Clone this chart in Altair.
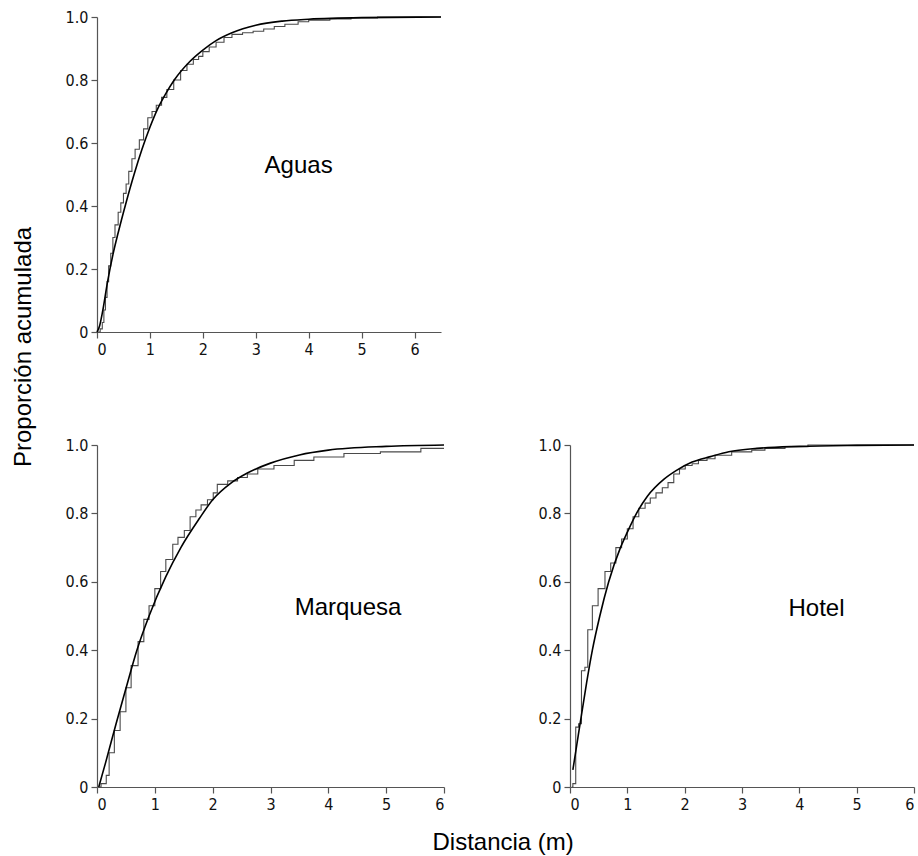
import altair as alt
import pandas as pd

# ---- Aguas -------------------------------------------------------------
AGUAS_FIT_X = [0.0, 0.05, 0.10, 0.20, 0.30, 0.40, 0.54, 0.70, 0.85, 1.00, 1.15,
               1.30, 1.46, 1.75, 2.00, 2.25, 2.55, 3.00, 3.50, 4.00, 5.00, 6.50]
AGUAS_FIT_Y = [0.0, 0.02, 0.06, 0.16, 0.245, 0.315, 0.405, 0.50, 0.58, 0.65, 0.71,
               0.757, 0.80, 0.858, 0.895, 0.925, 0.95, 0.974, 0.987, 0.993, 0.998, 1.0]
AGUAS_EMP_X = [0.00, 0.06, 0.10, 0.13, 0.16, 0.19, 0.22, 0.26, 0.30, 0.34, 0.40,
               0.45, 0.50, 0.55, 0.60, 0.66, 0.72, 0.80, 0.88, 0.96, 1.04, 1.12,
               1.22, 1.32, 1.45, 1.58, 1.70, 1.82, 1.92, 2.00, 2.12, 2.25, 2.40,
               2.55, 2.75, 2.95, 3.15, 3.35, 3.55, 3.80, 4.00, 4.40, 4.80, 5.30, 6.50]
AGUAS_EMP_Y = [0.00, 0.01, 0.03, 0.07, 0.11, 0.16, 0.21, 0.25, 0.30, 0.34, 0.38,
               0.41, 0.44, 0.47, 0.51, 0.55, 0.58, 0.61, 0.645, 0.68, 0.70, 0.72,
               0.745, 0.77, 0.80, 0.83, 0.85, 0.865, 0.875, 0.89, 0.905, 0.92, 0.935,
               0.945, 0.95, 0.955, 0.962, 0.97, 0.977, 0.985, 0.99, 0.994, 0.997, 1.0, 1.0]

# ---- Marquesa ----------------------------------------------------------
MARQ_FIT_X = [0.03, 0.15, 0.33, 0.50, 0.69, 0.90, 1.19, 1.45, 1.77, 2.00, 2.31,
              2.60, 3.00, 3.50, 4.00, 5.00, 6.00]
MARQ_FIT_Y = [0.0, 0.072, 0.185, 0.288, 0.40, 0.50, 0.615, 0.70, 0.785, 0.84, 0.888,
              0.918, 0.947, 0.971, 0.985, 0.996, 1.0]
MARQ_EMP_X = [0.03, 0.07, 0.16, 0.21, 0.30, 0.40, 0.50, 0.59, 0.71, 0.81, 0.90,
              1.00, 1.10, 1.19, 1.31, 1.40, 1.51, 1.61, 1.71, 1.80, 1.91, 2.01,
              2.08, 2.26, 2.43, 2.60, 2.78, 3.06, 3.41, 3.75, 4.27, 4.90, 5.60, 6.00]
MARQ_EMP_Y = [0.0, 0.01, 0.034, 0.10, 0.165, 0.22, 0.29, 0.355, 0.425, 0.49, 0.53,
              0.58, 0.63, 0.665, 0.71, 0.73, 0.75, 0.79, 0.81, 0.825, 0.84, 0.86,
              0.885, 0.895, 0.905, 0.915, 0.93, 0.94, 0.955, 0.965, 0.975, 0.98, 0.99, 0.99]

# ---- Hotel -------------------------------------------------------------
HOTEL_FIT_X = [0.05, 0.12, 0.19, 0.29, 0.39, 0.52, 0.675, 0.88, 1.00, 1.16, 1.35,
               1.64, 1.85, 2.13, 2.45, 2.77, 3.26, 4.00, 5.00, 6.00]
HOTEL_FIT_Y = [0.05, 0.125, 0.20, 0.305, 0.40, 0.50, 0.60, 0.70, 0.745, 0.80, 0.85,
               0.90, 0.925, 0.95, 0.966, 0.98, 0.99, 0.996, 0.999, 1.0]
HOTEL_EMP_X = [0.03, 0.05, 0.10, 0.15, 0.20, 0.26, 0.31, 0.39, 0.49, 0.61, 0.71,
               0.80, 0.90, 1.00, 1.10, 1.20, 1.31, 1.40, 1.50, 1.61, 1.71, 1.81,
               1.91, 2.01, 2.13, 2.24, 2.39, 2.53, 2.82, 3.17, 3.40, 3.75, 4.15, 6.00]
HOTEL_EMP_Y = [0.0, 0.01, 0.175, 0.185, 0.34, 0.35, 0.46, 0.53, 0.58, 0.63, 0.655,
               0.70, 0.725, 0.755, 0.79, 0.815, 0.83, 0.845, 0.86, 0.875, 0.89, 0.915,
               0.93, 0.94, 0.945, 0.955, 0.96, 0.97, 0.98, 0.985, 0.99, 0.995, 1.0, 1.0]

# Panel names and where each name sits (data units)
PANEL_NAMES = ["Aguas", "Marquesa", "Hotel"]
NAME_X = [3.81, 4.34, 4.30]
NAME_Y = [0.505, 0.503, 0.499]

Y_TICKS = [0, 0.2, 0.4, 0.6, 0.8, 1.0]
X_TICKS = [0, 1, 2, 3, 4, 5, 6]

TICK_FONT = "Liberation Sans Narrow, DejaVu Sans Condensed, Liberation Sans, sans-serif"
TEXT_FONT = "Liberation Sans, Arial, sans-serif"


def panel(fit_x, fit_y, emp_x, emp_y, name, nx, ny, xmax, w, h):
    x_scale = alt.Scale(domain=[0, xmax], nice=False, zero=True)
    y_scale = alt.Scale(domain=[0, 1], nice=False)
    x_axis = alt.Axis(values=X_TICKS, title=None, format="d")
    y_axis = alt.Axis(values=Y_TICKS, title=None,
                      labelExpr="datum.value == 0 ? '0' : format(datum.value, '.1f')")

    fit = pd.DataFrame({"x": fit_x, "y": fit_y})
    emp = pd.DataFrame({"x": emp_x, "y": emp_y})
    lab = pd.DataFrame({"x": [nx], "y": [ny], "t": [name]})

    fit_line = alt.Chart(fit).mark_line(
        color="#000000", strokeWidth=1.6, interpolate="monotone"
    ).encode(
        x=alt.X("x:Q", scale=x_scale, axis=x_axis),
        y=alt.Y("y:Q", scale=y_scale, axis=y_axis),
    )
    emp_line = alt.Chart(emp).mark_line(
        color="#4a4a4a", strokeWidth=1.1, interpolate="step-after"
    ).encode(x="x:Q", y="y:Q")
    text = alt.Chart(lab).mark_text(
        font=TEXT_FONT, fontSize=24, align="center", baseline="alphabetic", color="#000000"
    ).encode(x="x:Q", y="y:Q", text="t:N")

    return alt.layer(emp_line, fit_line, text).properties(width=w, height=h)


aguas = panel(AGUAS_FIT_X, AGUAS_FIT_Y, AGUAS_EMP_X, AGUAS_EMP_Y,
              PANEL_NAMES[0], NAME_X[0], NAME_Y[0], 6.5, 344, 315)
marquesa = panel(MARQ_FIT_X, MARQ_FIT_Y, MARQ_EMP_X, MARQ_EMP_Y,
                 PANEL_NAMES[1], NAME_X[1], NAME_Y[1], 6.0, 347, 342)
hotel = panel(HOTEL_FIT_X, HOTEL_FIT_Y, HOTEL_EMP_X, HOTEL_EMP_Y,
              PANEL_NAMES[2], NAME_X[2], NAME_Y[2], 6.0, 344, 342)

bottom = alt.hconcat(
    marquesa, hotel, spacing=126, bounds="flush",
    title=alt.TitleParams("Distancia (m)", orient="bottom", anchor="middle",
                          font=TEXT_FONT, fontSize=24, fontWeight="normal",
                          color="#000000", offset=19, dx=12),
)

chart = alt.vconcat(
    aguas, bottom, spacing=113, bounds="flush",
    title=alt.TitleParams("Proporción acumulada", orient="left", anchor="middle",
                          font=TEXT_FONT, fontSize=24, fontWeight="normal",
                          color="#000000", offset=29, dx=85),
).properties(
    padding={"left": 12, "top": 9, "right": 0, "bottom": 0},
    background="white",
).configure_view(
    stroke=None
).configure_axis(
    grid=False,
    domainColor="#555555",
    domainWidth=1.2,
    tickColor="#555555",
    tickSize=6,
    tickWidth=1.2,
    labelFont=TICK_FONT,
    labelFontSize=16,
    labelColor="#111111",
    labelPadding=3,
)

chart.save("out.html", embed_options={"renderer": "svg", "actions": False})
